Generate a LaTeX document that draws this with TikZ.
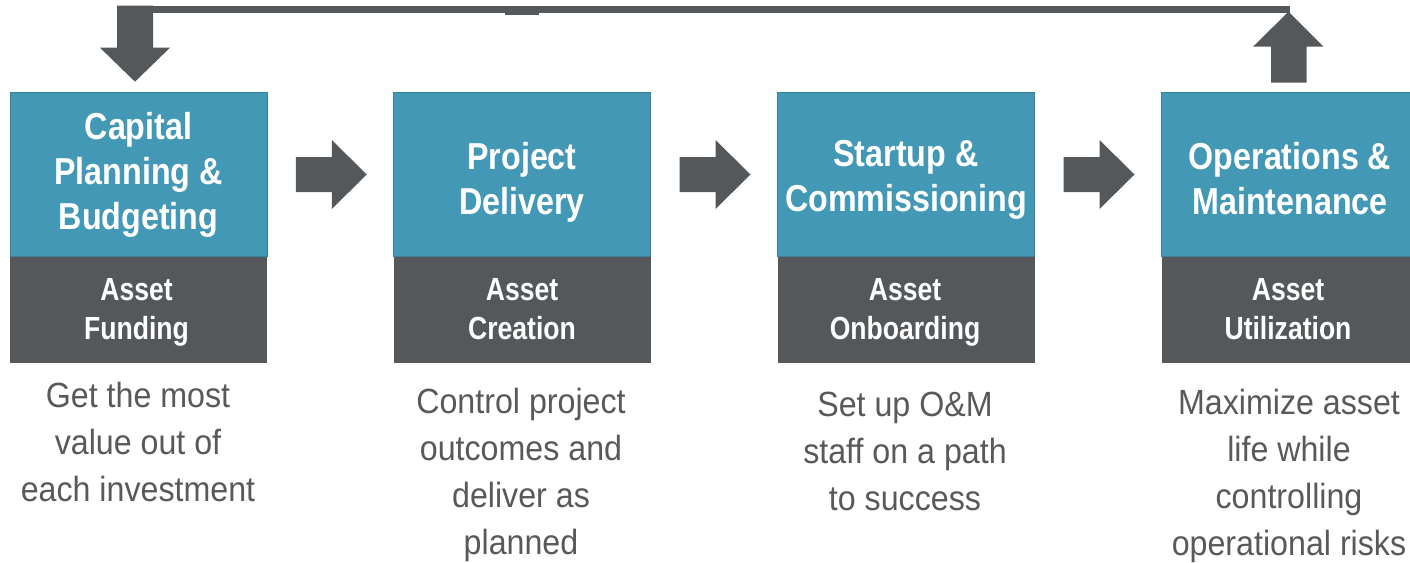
\documentclass[tikz,border=0pt]{standalone}
\usepackage{fontspec}
\setmainfont{Liberation Sans}
\newfontfamily\titlefont[FakeStretch=0.86]{Liberation Sans}
\newfontfamily\subfont[FakeStretch=0.83]{Liberation Sans}
\newfontfamily\bodyfont[FakeStretch=0.92]{Liberation Sans}
\usetikzlibrary{calc}
\definecolor{boxblue}{RGB}{67,152,181}
\definecolor{boxgray}{RGB}{84,88,90}
\definecolor{textgray}{RGB}{89,89,89}
\tikzset{
  titlebox/.style={draw=boxblue!85!black, line width=0.6pt, fill=boxblue, minimum width=257pt, minimum height=164pt, inner sep=0pt},
  titletext/.style={inner sep=0pt, align=center, text=white, font=\titlefont\bfseries\fontsize{37.5}{45}\selectfont},
  subbox/.style={fill=boxgray, minimum width=257pt, minimum height=106pt, inner sep=0pt, anchor=north},
  subtext/.style={inner sep=0pt, align=center, text=white, font=\subfont\bfseries\fontsize{32}{39}\selectfont},
  desc/.style={anchor=north, inner sep=0pt, align=center, text=textgray, font=\bodyfont\fontsize{35}{47}\selectfont},
  rarrow/.pic={\fill[boxgray] (-36,-17.5) -- (0,-17.5) -- (0,-34.5) -- (35,0) -- (0,34.5) -- (0,17.5) -- (-36,17.5) -- cycle;}
}
\begin{document}
\begin{tikzpicture}[x=1pt,y=-1pt]
\useasboundingbox (0,0) rectangle (1410,562);
% boxes
\node[titlebox] (t1) at (138.5,174) {};
\node[titlebox] (t2) at (522,174) {};
\node[titlebox] (t3) at (906,174) {};
\node[titlebox] (t4) at (1290,174) {};
\node[subbox] (s1) at (t1.south) {};
\node[subbox] (s2) at (t2.south) {};
\node[subbox] (s3) at (t3.south) {};
\node[subbox] (s4) at (t4.south) {};
% titles
\node[titletext] (l1) at ($(t1.center)+(0,1.5)$) {\strut Capital\\\strut Planning \&\\\strut Budgeting};
\node[titletext] (l2) at ($(t2.center)+(0,9)$) {\strut Project\\\strut Delivery};
\node[titletext] (l3) at ($(t3.center)+(0,6)$) {\strut Startup \&\\\strut Commissioning};
\node[titletext] (l4) at ($(t4.center)+(0,9)$) {\strut Operations \&\\\strut Maintenance};
\node[subtext] (u1) at ($(s1.center)+(-2,3)$) {\strut Asset\\\strut Funding};
\node[subtext] (u2) at ($(s2.center)+(0,3)$) {\strut Asset\\\strut Creation};
\node[subtext] (u3) at ($(s3.center)+(-1,3)$) {\strut Asset\\\strut Onboarding};
\node[subtext] (u4) at ($(s4.center)+(-2,3)$) {\strut Asset\\\strut Utilization};
% descriptions
\node[desc] (d1) at (138,374) {\strut Get the most\\\strut value out of\\\strut each investment};
\node[desc] (d2) at (521,380) {\strut Control project\\\strut outcomes and\\\strut deliver as\\\strut planned};
\node[desc] (d3) at (905,383) {\strut Set up O\&M\\\strut staff on a path\\\strut to success};
\node[desc] (d4) at (1289,381) {\strut Maximize asset\\\strut life while\\\strut controlling\\\strut operational risks};
% block arrows between stages
\pic at ($(t1.east)!0.5!(t2.west)+(1.5,0.5)$) {rarrow};
\pic at ($(t2.east)!0.5!(t3.west)+(1.5,0.5)$) {rarrow};
\pic at ($(t3.east)!0.5!(t4.west)+(1.5,0.5)$) {rarrow};
% feedback loop
\coordinate (dtip) at ($(t1.north)+(-3.5,-10)$);
\coordinate (utail) at ($(t4.north)+(-1.5,-9)$);
\fill[boxgray] (dtip) -- ++(-35,-34) -- ++(17,0) -- ++(0,-42) -- ++(36,0) -- ++(0,42) -- ++(17,0) -- cycle;
\fill[boxgray] (utail) ++(-17.5,0) -- ++(0,-36) -- ++(-18,0) -- ++(35.5,-35) -- ++(35,35) -- ++(-17,0) -- ++(0,36) -- cycle;
\fill[boxgray] ($(dtip)+(-18,-76)$) rectangle ($(utail)+(1,-70)$);
\fill[boxgray] (505,12) rectangle (539,15);
\end{tikzpicture}
\end{document}
